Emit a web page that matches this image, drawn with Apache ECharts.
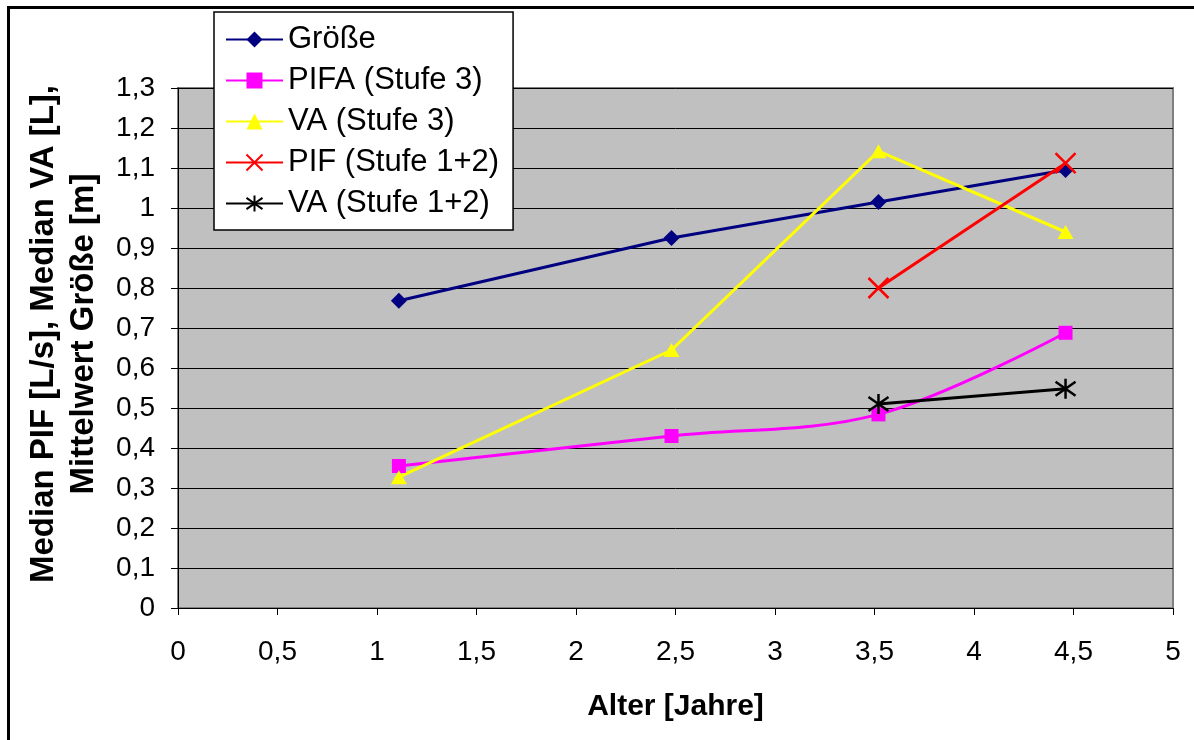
<!DOCTYPE html>
<html>
<head>
<meta charset="utf-8">
<script src="https://cdn.jsdelivr.net/npm/echarts@6/dist/echarts.min.js"></script>
<style>
  html, body { margin: 0; padding: 0; background: #fff; }
  #chart { width: 1194px; height: 740px; }
</style>
</head>
<body>
<div id="chart"></div>
<script>
// Alter der Kinder (Jahre) je Altersgruppe
const ages = [1.11, 2.48, 3.52, 4.46];
const agesStufe12 = [3.52, 4.46];

// Messwerte
const groesse = [0.768, 0.925, 1.015, 1.095];   // Mittelwert Größe [m]
const pifaStufe3 = [0.355, 0.43, 0.484, 0.688]; // Median PIFA [L/s]
const vaStufe3 = [0.327, 0.645, 1.142, 0.94];   // Median VA [L]
const pifStufe12 = [0.80, 1.112];               // Median PIF [L/s]
const vaStufe12 = [0.51, 0.548];                // Median VA [L]

const seriesNames = ['Größe', 'PIFA (Stufe 3)', 'VA (Stufe 3)', 'PIF (Stufe 1+2)', 'VA (Stufe 1+2)'];

const xTicks = [0, 0.5, 1, 1.5, 2, 2.5, 3, 3.5, 4, 4.5, 5];

const pairs = (xs, ys) => xs.map((x, i) => [x, ys[i]]);
const comma = v => String(Math.round(v * 10) / 10).replace('.', ',');

const FONT = 'Liberation Sans, Arial, sans-serif';
const crossPath = 'path://M0,0L10,10M10,0L0,10';
const starPath = 'path://M0,1.5L10,8.5M10,1.5L0,8.5M5,0L5,10';

const chart = echarts.init(document.getElementById('chart'), null, { renderer: 'canvas' });

chart.setOption({
  animation: false,
  backgroundColor: '#ffffff',
  textStyle: { fontFamily: FONT, color: '#000' },
  graphic: [{
    type: 'rect',
    z: -10,
    silent: true,
    shape: { x: 8.5, y: 7.5, width: 1300, height: 900 },
    style: { fill: 'none', stroke: '#000', lineWidth: 3 }
  }],
  grid: {
    left: 178, right: 21, top: 88, bottom: 132,
    show: true,
    backgroundColor: '#C0C0C0',
    borderColor: '#808080',
    borderWidth: 2
  },
  legend: {
    orient: 'vertical',
    left: 214, top: 12,
    backgroundColor: '#ffffff',
    borderColor: '#000',
    borderWidth: 1.5,
    borderRadius: 0,
    padding: [12, 14, 11, 11],
    itemWidth: 57,
    itemHeight: 20,
    itemGap: 10,
    textStyle: { fontFamily: FONT, fontSize: 31, color: '#000', lineHeight: 31 },
    data: seriesNames
  },
  xAxis: {
    type: 'value',
    min: 0, max: 5, interval: 0.5,
    name: 'Alter [Jahre]',
    nameLocation: 'middle',
    nameGap: 84,
    nameTextStyle: { fontFamily: FONT, fontSize: 30, fontWeight: 'bold', color: '#000' },
    axisLine: { show: true, lineStyle: { color: '#000', width: 1 } },
    axisTick: { show: true, length: 7, lineStyle: { color: '#000' } },
    axisLabel: {
      margin: 30, fontSize: 28, color: '#000', fontFamily: FONT,
      formatter: v => xTicks.indexOf(v) >= 0 ? comma(v) : ''
    },
    splitLine: { show: false }
  },
  yAxis: {
    type: 'value',
    min: 0, max: 1.3, interval: 0.1,
    name: 'Median PIF [L/s], Median VA [L],\nMittelwert Größe [m]',
    nameLocation: 'middle',
    nameRotate: 90,
    nameGap: 74,
    nameTextStyle: {
      fontFamily: FONT, fontSize: 33, fontWeight: 'bold', color: '#000',
      lineHeight: 40, padding: [0, 0, 0, 28]
    },
    axisLine: { show: true, lineStyle: { color: '#000', width: 1 } },
    axisTick: { show: true, length: 7, lineStyle: { color: '#000' } },
    axisLabel: { margin: 23, fontSize: 28, color: '#000', fontFamily: FONT, formatter: comma },
    splitLine: { show: true, lineStyle: { color: '#000', width: 1 } }
  },
  series: [
    {
      name: seriesNames[0], type: 'line',
      data: pairs(ages, groesse),
      symbol: 'diamond', symbolSize: 16,
      lineStyle: { color: '#000080', width: 3 },
      itemStyle: { color: '#000080' }
    },
    {
      name: seriesNames[1], type: 'line',
      data: pairs(ages, pifaStufe3),
      smooth: 0.35,
      symbol: 'rect', symbolSize: 14,
      lineStyle: { color: '#FF00FF', width: 3 },
      itemStyle: { color: '#FF00FF' }
    },
    {
      name: seriesNames[2], type: 'line',
      data: pairs(ages, vaStufe3),
      symbol: 'triangle', symbolSize: [16, 14],
      lineStyle: { color: '#FFFF00', width: 3 },
      itemStyle: { color: '#FFFF00' }
    },
    {
      name: seriesNames[3], type: 'line',
      data: pairs(agesStufe12, pifStufe12),
      symbol: crossPath, symbolSize: 20,
      lineStyle: { color: '#FF0000', width: 3 },
      itemStyle: { color: '#FF0000', borderColor: '#FF0000', borderWidth: 2.5 }
    },
    {
      name: seriesNames[4], type: 'line',
      data: pairs(agesStufe12, vaStufe12),
      symbol: starPath, symbolSize: 20,
      lineStyle: { color: '#000000', width: 3 },
      itemStyle: { color: '#000000', borderColor: '#000000', borderWidth: 2.5 }
    }
  ]
});
</script>
</body>
</html>
